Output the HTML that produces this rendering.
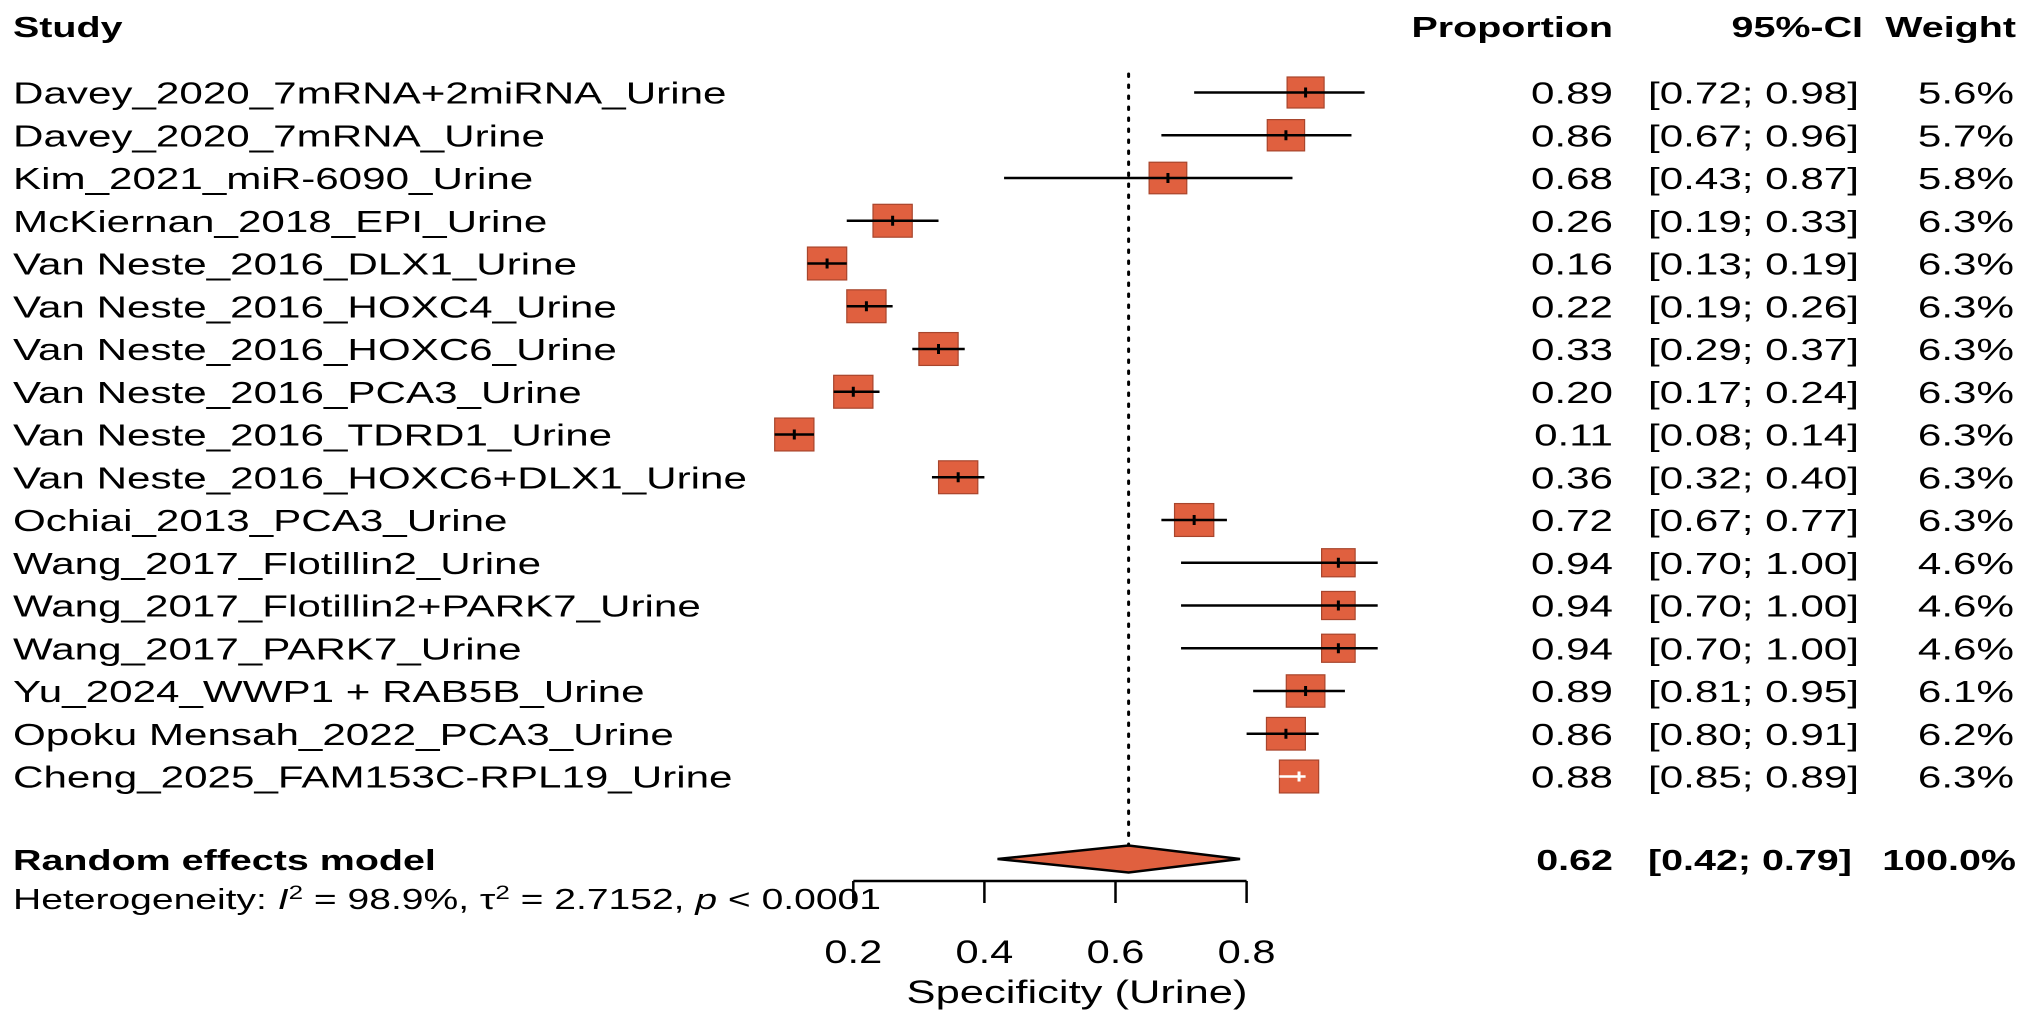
<!DOCTYPE html>
<html><head><meta charset="utf-8"><style>
html,body{margin:0;padding:0;background:#fff;}
svg{display:block;font-family:"Liberation Sans",Arial,sans-serif;}
</style></head><body>
<svg id="chart" width="2031" height="1021" viewBox="0 0 2031 1021" xmlns="http://www.w3.org/2000/svg">
<g id="header"></g>
<g id="rows"></g>
<g id="plot"></g>
<g id="axis"></g>
</svg>
<script>
const studies = ["Davey_2020_7mRNA+2miRNA_Urine","Davey_2020_7mRNA_Urine","Kim_2021_miR-6090_Urine","McKiernan_2018_EPI_Urine","Van Neste_2016_DLX1_Urine","Van Neste_2016_HOXC4_Urine","Van Neste_2016_HOXC6_Urine","Van Neste_2016_PCA3_Urine","Van Neste_2016_TDRD1_Urine","Van Neste_2016_HOXC6+DLX1_Urine","Ochiai_2013_PCA3_Urine","Wang_2017_Flotillin2_Urine","Wang_2017_Flotillin2+PARK7_Urine","Wang_2017_PARK7_Urine","Yu_2024_WWP1 + RAB5B_Urine","Opoku Mensah_2022_PCA3_Urine","Cheng_2025_FAM153C-RPL19_Urine"];
const proportion = [0.89,0.86,0.68,0.26,0.16,0.22,0.33,0.20,0.11,0.36,0.72,0.94,0.94,0.94,0.89,0.86,0.88];
const lower = [0.72,0.67,0.43,0.19,0.13,0.19,0.29,0.17,0.08,0.32,0.67,0.70,0.70,0.70,0.81,0.80,0.85];
const upper = [0.98,0.96,0.87,0.33,0.19,0.26,0.37,0.24,0.14,0.40,0.77,1.00,1.00,1.00,0.95,0.91,0.89];
const weights = [5.6,5.7,5.8,6.3,6.3,6.3,6.3,6.3,6.3,6.3,6.3,4.6,4.6,4.6,6.1,6.2,6.3];
const pooled = [0.62,0.42,0.79];
const pooledWeight = "100.0%";
const tickValues = [0.2,0.4,0.6,0.8];
const tickLabels = ["0.2","0.4","0.6","0.8"];

const NS="http://www.w3.org/2000/svg";
const x0=722.2, xs=655.5;
function xScale(v){return x0+xs*v;}
const rowY0=92.5, rowH=42.75;
function yScale(i){return rowY0+rowH*i;}
const SX=1.36, FS=31;
function mk(tag,attrs,parent){const e=document.createElementNS(NS,tag);for(const k in attrs)e.setAttribute(k,attrs[k]);parent.appendChild(e);return e;}
function txt(parent,x,y,s,anchor,bold,size,sx){
  const t=mk('text',{transform:`translate(${x},${y}) scale(${sx||SX},1)`,'text-anchor':anchor||'start','font-size':size||FS,'font-weight':bold?'bold':'normal',fill:'#000'},parent);
  t.textContent=s;return t;
}
const header=document.getElementById('header'),rows=document.getElementById('rows'),plot=document.getElementById('plot'),axis=document.getElementById('axis');
let t;
t=txt(header,13,37,"Study",'start',true,29);


t=txt(header,1613,37,"Proportion",'end',true,29);


t=txt(header,1863,37,"95%-CI",'end',true,29);


t=txt(header,2016,37,"Weight",'end',true,29);



const ref=mk('line',{x1:xScale(pooled[0]),x2:xScale(pooled[0]),y1:74,y2:846,stroke:'#000','stroke-width':3,'stroke-dasharray':'2.5 8.5','stroke-linecap':'round'},plot);



const fmt=v=>v.toFixed(2);
studies.forEach((s,i)=>{
  const y=yScale(i);
  t=txt(rows,13,y+11,s,'start',false);
  
  
  t=txt(rows,1613,y+11,fmt(proportion[i]),'end',false);
  
  
  t=txt(rows,1648,y+11,"["+fmt(lower[i])+"; "+fmt(upper[i])+"]",'start',false);
  
  
  t=txt(rows,2014,y+11,weights[i].toFixed(1)+"%",'end',false);
  
  
  const w=37*Math.sqrt(weights[i]/5.6), h=31*Math.sqrt(weights[i]/5.6);
  const cx=xScale(proportion[i]);
  const sq=mk('rect',{x:cx-w/2,y:y-h/2,width:w,height:h,fill:'#e0603f',stroke:'#a8452c','stroke-width':1.2},plot);
  
  
  const lx=xScale(lower[i]), ux=xScale(upper[i]);
  const inside = (ux-lx) < w;
  const ci=mk('line',{x1:lx,x2:ux,y1:y,y2:y,stroke:inside?'#fff':'#000','stroke-width':2.5},plot);
  
  
  const pt=mk('line',{x1:cx,x2:cx,y1:y-5,y2:y+5,stroke:inside?'#fff':'#000','stroke-width':3},plot);
  
  
});

const py=859;
t=txt(rows,13,py+11,"Random effects model",'start',true,29);


t=txt(rows,1613,py+11,fmt(pooled[0]),'end',true,29);


t=txt(rows,1648,py+11,"["+fmt(pooled[1])+"; "+fmt(pooled[2])+"]",'start',true,29);


t=txt(rows,2016,py+11,pooledWeight,'end',true,29);


const dia=mk('polygon',{points:`${xScale(pooled[1])},${py} ${xScale(pooled[0])},${py-13.5} ${xScale(pooled[2])},${py} ${xScale(pooled[0])},${py+13.5}`,fill:'#e0603f',stroke:'#000','stroke-width':2.5},plot);



const het=mk('text',{transform:`translate(13,909) scale(1.37,1)`,'font-size':28.5,fill:'#000'},rows);


het.innerHTML='Heterogeneity: <tspan font-style="italic">I</tspan><tspan dy="-10" font-size="19">2</tspan><tspan dy="10"> = 98.9%, τ</tspan><tspan dy="-10" font-size="19">2</tspan><tspan dy="10"> = 2.7152, </tspan><tspan font-style="italic">p</tspan> &lt; 0.0001';

const ay=881;
const al=mk('line',{x1:xScale(tickValues[0]),x2:xScale(tickValues[tickValues.length-1]),y1:ay,y2:ay,stroke:'#000','stroke-width':2.5},axis);


tickValues.forEach((v,i)=>{
  const tk=mk('line',{x1:xScale(v),x2:xScale(v),y1:ay,y2:ay+22,stroke:'#000','stroke-width':2.5},axis);
  
  
  const tl=txt(axis,xScale(v),963,tickLabels[i],'middle',false,32,1.3);
  
  
});
t=txt(axis,1077,1003,"Specificity (Urine)",'middle',false,32,1.36);


</script>
</body></html>
